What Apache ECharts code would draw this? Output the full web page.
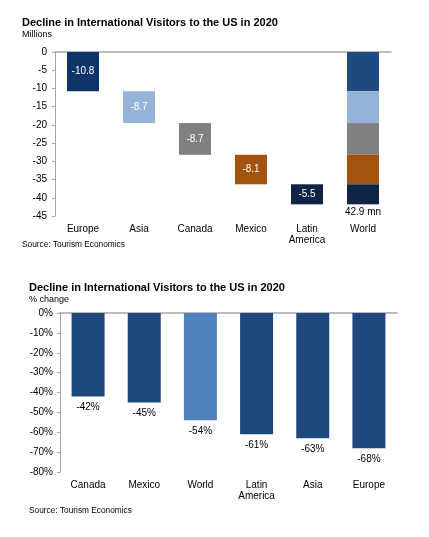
<!DOCTYPE html>
<html><head><meta charset="utf-8">
<script src="https://cdn.jsdelivr.net/npm/echarts@6/dist/echarts.min.js"></script>
<style>html,body{margin:0;padding:0;background:#fff}#c{width:429px;height:537px}</style>
</head><body><div id="c"></div>
<script>
// Chart 1: waterfall, millions
const regions1 = ['Europe', 'Asia', 'Canada', 'Mexico', 'Latin\nAmerica', 'World'];
const declines1 = [-10.8, -8.7, -8.7, -8.1, -5.5];  // Europe, Asia, Canada, Mexico, Latin America
const worldTotal1 = 42.9;
const yTicks1 = { min: -45, max: 0, interval: 5 };

// Chart 2: % change
const regions2 = ['Canada', 'Mexico', 'World', 'Latin\nAmerica', 'Asia', 'Europe'];
const pct2 = [-42, -45, -54, -61, -63, -68];
const yTicks2 = { min: -80, max: 0, interval: 10 };

const FONT = 'Liberation Sans, Arial, sans-serif';
const colors1 = ['#0f3468', '#95b3d7', '#808080', '#a3520f', '#102444'];
const worldSegColors = ['#1f4a80', '#95b3d7', '#808080', '#a3520f', '#102444'];
const axisGrey = '#a6a6a6';

// base offsets for waterfall
const base = [];
let acc = 0;
for (let i = 0; i < declines1.length; i++) { base.push(acc); acc += declines1[i]; }
base.push(0);

const series = [];
series.push({
  type: 'bar', xAxisIndex: 1, yAxisIndex: 0, stack: 'w', barWidth: 32,
  data: base, itemStyle: { color: 'transparent' }, silent: true
});
declines1.forEach((v, i) => {
  const d = regions1.map((_, j) => {
    if (j === i) return { value: v, itemStyle: { color: colors1[i] } };
    if (j === regions1.length - 1) {
      const o = { value: v, itemStyle: { color: worldSegColors[i] }, label: { show: false } };
      if (i === declines1.length - 1) {
        o.label = { show: true, position: 'bottom', distance: 3, color: '#000', fontSize: 10,
          fontFamily: FONT, formatter: () => worldTotal1 + ' mn' };
      }
      return o;
    }
    return '-';
  });
  series.push({
    type: 'bar', xAxisIndex: 1, yAxisIndex: 0, stack: 'w', barWidth: 32,
    data: d,
    label: { show: true, position: 'inside', color: '#fff', fontSize: 10, fontFamily: FONT,
      formatter: p => p.value.toFixed(1) }
  });
});

series.push({
  type: 'bar', xAxisIndex: 3, yAxisIndex: 1, barWidth: 33,
  data: pct2.map((v, i) => ({ value: v, itemStyle: { color: regions2[i] === 'World' ? '#4f81bd' : '#1f497d' } })),
  label: { show: true, position: 'bottom', distance: 6, color: '#000', fontSize: 10, fontFamily: FONT,
    formatter: p => p.value + '%' }
});

const catAxisLabels = (gi, cats) => ({
  type: 'category', gridIndex: gi, data: cats, position: 'bottom',
  axisLine: { show: false }, axisTick: { show: false },
  axisLabel: { color: '#000', fontSize: 10, fontFamily: FONT, margin: 8, lineHeight: 11 }
});
const catAxisLine = (gi, cats) => ({
  type: 'category', gridIndex: gi, data: cats, position: 'top',
  axisLine: { show: true, lineStyle: { color: axisGrey, width: 1.5 } }, axisTick: { show: false },
  axisLabel: { show: false }
});
const valAxis = (gi, t, fmt, margin) => ({
  type: 'value', gridIndex: gi, min: t.min, max: t.max, interval: t.interval,
  splitLine: { show: false },
  axisLine: { show: true, lineStyle: { color: axisGrey, width: 1 } },
  axisTick: { show: true, length: 3, lineStyle: { color: axisGrey } },
  axisLabel: { color: '#000', fontSize: 10, fontFamily: FONT, margin: margin, formatter: fmt }
});

const sub = { fontSize: 9, fontWeight: 'normal', color: '#000', fontFamily: FONT };
const small = { fontSize: 8.3, fontWeight: 'normal', color: '#000', fontFamily: FONT };
const big = { fontSize: 11, fontWeight: 'bold', color: '#000', fontFamily: FONT };
const option = {
  animation: false,
  backgroundColor: '#fff',
  title: [
    { text: 'Decline in International Visitors to the US in 2020', left: 22, top: 17, padding: 0, textStyle: big },
    { text: 'Millions', left: 22, top: 30, padding: 0, textStyle: sub },
    { text: 'Source: Tourism Economics', left: 22, top: 241, padding: 0, textStyle: small },
    { text: 'Decline in International Visitors to the US in 2020', left: 29, top: 282, padding: 0, textStyle: big },
    { text: '% change', left: 29, top: 295, padding: 0, textStyle: sub },
    { text: 'Source: Tourism Economics', left: 29, top: 507, padding: 0, textStyle: small }
  ],
  grid: [
    { left: 55, right: 38, top: 52, height: 164 },
    { left: 60, right: 32, top: 313, height: 159 }
  ],
  xAxis: [catAxisLine(0, regions1), catAxisLabels(0, regions1), catAxisLine(1, regions2), catAxisLabels(1, regions2)],
  yAxis: [valAxis(0, yTicks1, '{value}', 8), valAxis(1, yTicks2, '{value}%', 7)],
  series: series
};
echarts.init(document.getElementById('c')).setOption(option);
</script></body></html>
